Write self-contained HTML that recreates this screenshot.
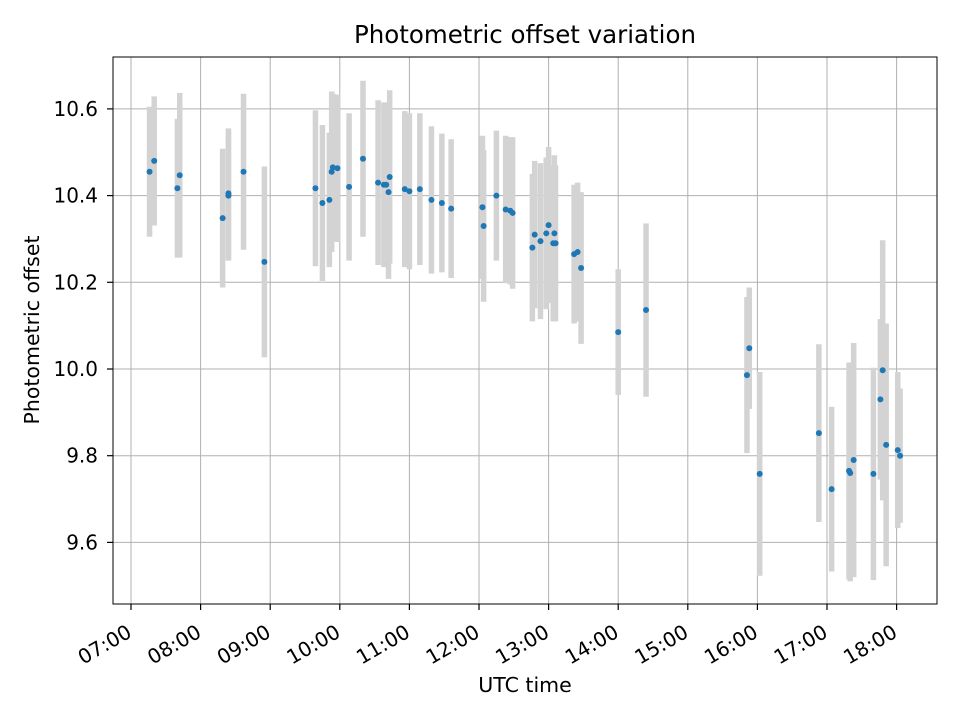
<!DOCTYPE html>
<html><head><meta charset="utf-8"><style>
body{margin:0;background:#fff}
svg text{font-family:"DejaVu Sans","Liberation Sans",sans-serif;fill:#000}
</style></head><body>
<svg id="chart" width="960" height="720" viewBox="0 0 960 720" xmlns="http://www.w3.org/2000/svg">
<rect width="960" height="720" fill="#fff"/>
<g id="grid"></g>
<g id="bars"></g>
<g id="pts"></g>
<rect x="113" y="57" width="824" height="547" fill="none" stroke="#000" stroke-width="1"/>
<g id="axes"></g>
<text x="525" y="43" font-size="24.5" text-anchor="middle">Photometric offset variation</text>
<text x="525" y="692" font-size="20.5" text-anchor="middle">UTC time</text>
<text x="39" y="330" font-size="20.5" text-anchor="middle" transform="rotate(-90 39 330)">Photometric offset</text>
</svg>
<script>
const times=["07:16","07:20","07:40","07:42","08:19","08:24","08:24","08:37","08:55","09:39","09:45","09:51","09:53","09:54","09:58","10:08","10:20","10:33","10:38","10:40","10:43","10:42","10:56","11:00","11:09","11:19","11:28","11:36","12:03","12:04","12:15","12:23","12:27","12:29","12:46","12:48","12:53","12:58","13:00","13:04","13:05","13:06","13:22","13:25","13:28","14:00","14:24","15:51","15:53","16:02","16:53","17:04","17:19","17:20","17:23","17:40","17:46","17:48","17:51","18:01","18:03"];
const offsets=[10.455,10.48,10.417,10.447,10.348,10.40,10.405,10.455,10.247,10.417,10.383,10.39,10.455,10.465,10.463,10.42,10.485,10.43,10.425,10.425,10.443,10.408,10.415,10.41,10.415,10.39,10.383,10.37,10.373,10.33,10.40,10.368,10.365,10.36,10.28,10.31,10.295,10.313,10.332,10.29,10.313,10.29,10.265,10.27,10.233,10.085,10.136,9.986,10.048,9.758,9.852,9.723,9.765,9.76,9.79,9.758,9.93,9.997,9.825,9.813,9.80];
const errors=[0.15,0.149,0.16,0.19,0.16,0.15,0.15,0.18,0.22,0.18,0.18,0.155,0.185,0.17,0.17,0.17,0.18,0.19,0.19,0.19,0.2,0.2,0.18,0.18,0.175,0.17,0.16,0.16,0.165,0.175,0.15,0.17,0.17,0.175,0.17,0.17,0.18,0.175,0.18,0.18,0.18,0.18,0.16,0.16,0.175,0.145,0.2,0.18,0.14,0.235,0.205,0.19,0.25,0.25,0.27,0.245,0.185,0.30,0.28,0.18,0.155];
const xTickLabels=["07:00","08:00","09:00","10:00","11:00","12:00","13:00","14:00","15:00","16:00","17:00","18:00"];
const yTickLabels=["9.6","9.8","10.0","10.2","10.4","10.6"];
const NS="http://www.w3.org/2000/svg";
const L=113,R=937,T=57,B=604;
function hrs(s){const p=s.split(":");return +p[0]+(+p[1])/60;}
const xMin=7-18/69.6, xMax=7+806/69.6;
function X(h){return L+(h-xMin)/(xMax-xMin)*(R-L);}
const yMin=10-(B-369)/433.5, yMax=10+(369-T)/433.5;
function Y(v){return B-(v-yMin)/(yMax-yMin)*(B-T);}
function mk(t,a,p){const e=document.createElementNS(NS,t);for(const k in a)e.setAttribute(k,a[k]);p.appendChild(e);return e;}
const grid=document.getElementById('grid'),axes=document.getElementById('axes');
xTickLabels.forEach(l=>{const x=X(hrs(l));
 const g=mk('line',{x1:x,x2:x,y1:T,y2:B,stroke:'#b0b0b0','stroke-width':1},grid);
 
 const t=mk('line',{x1:x,x2:x,y1:B,y2:B+6,stroke:'#000','stroke-width':1.2},axes);
 
 const ax=x+2, ay=B+32;
 const tx=mk('text',{x:ax,y:ay,'font-size':20,'text-anchor':'end',transform:`rotate(-30 ${ax} ${ay})`},axes);
 tx.textContent=l;
 
});
yTickLabels.forEach(l=>{const y=Y(+l);
 const g=mk('line',{x1:L,x2:R,y1:y,y2:y,stroke:'#b0b0b0','stroke-width':1},grid);
 
 const t=mk('line',{x1:L-6,x2:L,y1:y,y2:y,stroke:'#000','stroke-width':1.2},axes);
 
 const tx=mk('text',{x:L-15,y:y+7,'font-size':20,'text-anchor':'end'},axes);
 tx.textContent=l;
 
});
const bars=document.getElementById('bars'),pts=document.getElementById('pts');
times.forEach((t,i)=>{const x=X(hrs(t));
 const b=mk('line',{x1:x,x2:x,y1:Y(offsets[i]+errors[i]),y2:Y(offsets[i]-errors[i]),stroke:'#d3d3d3','stroke-width':5.5},bars);
 
});
times.forEach((t,i)=>{const x=X(hrs(t));
 const c=mk('circle',{cx:x,cy:Y(offsets[i]),r:3,fill:'#1f77b4'},pts);
 
});
</script>
</body></html>
